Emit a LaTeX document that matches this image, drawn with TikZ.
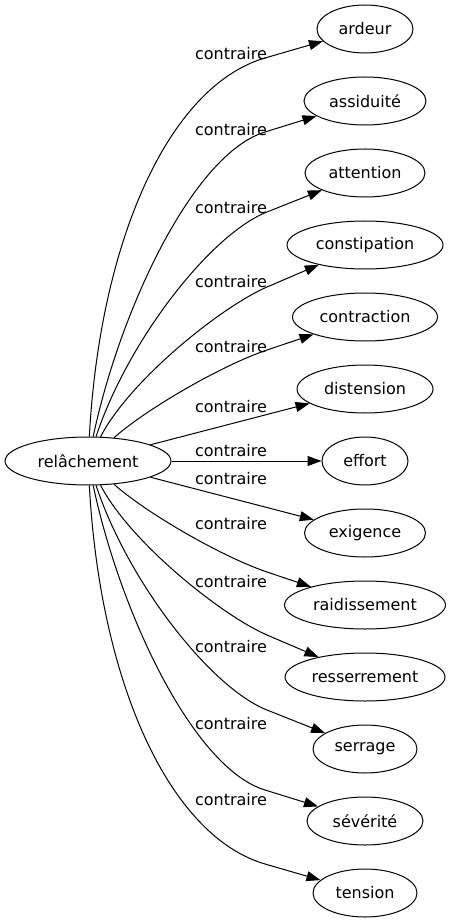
\documentclass[tikz,border=0pt]{standalone}
\usepackage{fontspec}
\setmainfont{DejaVu Sans}
\usetikzlibrary{arrows.meta,shapes.geometric}
\begin{document}
\begin{tikzpicture}[x=0.75pt,y=-0.75pt,
  word/.style={draw, ellipse, line width=0.75pt, minimum height=36pt, inner sep=0pt, font=\fontsize{12}{14}\selectfont},
  lbl/.style={inner sep=0pt, font=\fontsize{12}{14}\selectfont},
  edge/.style={line width=0.75pt, -{Triangle[length=10.5pt,width=7.5pt]}}]
\useasboundingbox (0,0) rectangle (451,923);

% nodes
\node[word, minimum width=124.5pt] (rel) at (88,461) {relâchement};
\node[word, minimum width=72pt]    (ardeur) at (365,29) {ardeur};
\node[word, minimum width=91.5pt]  (assiduite) at (365,101) {assiduité};
\node[word, minimum width=90pt]    (attention) at (365,173) {attention};
\node[word, minimum width=117pt]   (constipation) at (365,245) {constipation};
\node[word, minimum width=108.75pt] (contraction) at (365,317) {contraction};
\node[word, minimum width=102pt]   (distension) at (365,389) {distension};
\node[word, minimum width=64.5pt]  (effort) at (365,461) {effort};
\node[word, minimum width=90.75pt] (exigence) at (365,533) {exigence};
\node[word, minimum width=120.75pt] (raidissement) at (365,605) {raidissement};
\node[word, minimum width=120pt]   (resserrement) at (365,677) {resserrement};
\node[word, minimum width=78pt]    (serrage) at (365,749) {serrage};
\node[word, minimum width=87pt]    (severite) at (365,821) {sévérité};
\node[word, minimum width=78pt]    (tension) at (365,893) {tension};

% edges
\draw[edge] (rel) .. controls (100,240) and (169,86) .. (265,58) -- (ardeur);
\draw[edge] (rel) .. controls (120,310) and (193,154) .. (265,132) -- (assiduite);
\draw[edge] (rel) .. controls (128,340) and (211,234) .. (267,212) -- (attention);
\draw[edge] (rel) .. controls (130,380) and (221,307) .. (267,287) -- (constipation);
\draw[edge] (rel) .. controls (145,410) and (220,366) .. (267,350) -- (contraction);
\draw[edge] (rel) -- (distension);
\draw[edge] (rel) -- (effort);
\draw[edge] (rel) -- (exigence);
\draw[edge] (rel) .. controls (145,512) and (220,556) .. (267,572) -- (raidissement);
\draw[edge] (rel) .. controls (130,542) and (221,615) .. (267,635) -- (resserrement);
\draw[edge] (rel) .. controls (128,582) and (211,688) .. (267,710) -- (serrage);
\draw[edge] (rel) .. controls (120,612) and (193,768) .. (265,790) -- (severite);
\draw[edge] (rel) .. controls (100,682) and (169,836) .. (265,864) -- (tension);

% labels
\node[lbl] (l1) at (231,54) {contraire};
\node[lbl] (l2) at (231,130) {contraire};
\node[lbl] (l3) at (231,207.5) {contraire};
\node[lbl] (l4) at (231,281.5) {contraire};
\node[lbl] (l5) at (231,346.5) {contraire};
\node[lbl] (l6) at (231,406.5) {contraire};
\node[lbl] (l7) at (231,451) {contraire};
\node[lbl] (l8) at (231,478.5) {contraire};
\node[lbl] (l9) at (231,523.5) {contraire};
\node[lbl] (l10) at (231,581.5) {contraire};
\node[lbl] (l11) at (231,646.5) {contraire};
\node[lbl] (l12) at (231,723.5) {contraire};
\node[lbl] (l13) at (231,800) {contraire};
\end{tikzpicture}
\end{document}
